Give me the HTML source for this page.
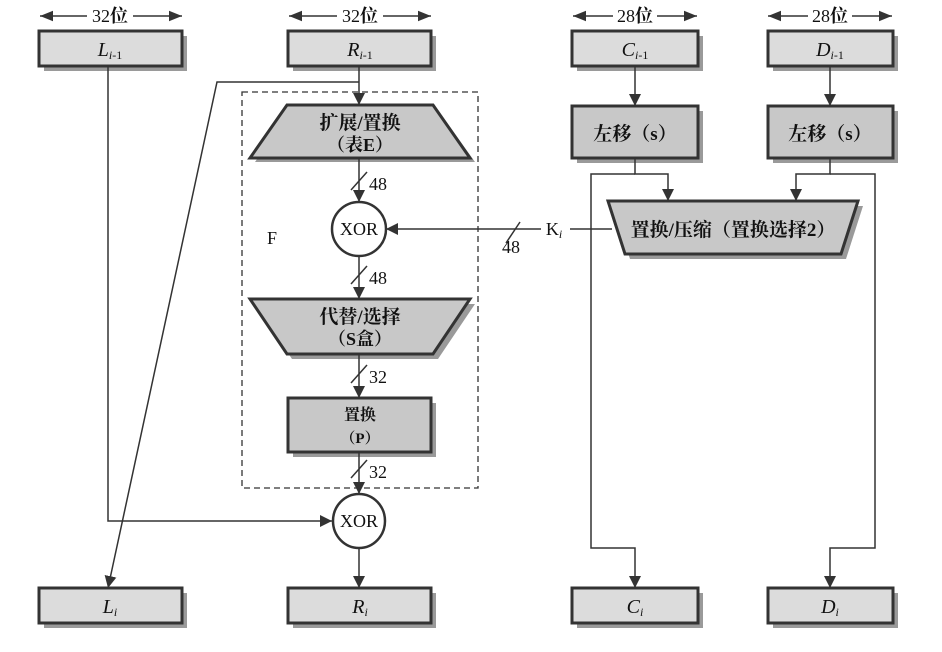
<!DOCTYPE html>
<html><head><meta charset="utf-8"><style>
body{margin:0;background:#fff}
text{font-family:"Liberation Serif","Noto Serif CJK SC",serif;fill:#111}
.cj{font-weight:bold}
</style></head><body>
<svg width="942" height="647" viewBox="0 0 942 647" xmlns="http://www.w3.org/2000/svg">
<defs>
<marker id="a" viewBox="0 0 10 10" refX="10" refY="5" markerWidth="12" markerHeight="12" orient="auto-start-reverse" markerUnits="userSpaceOnUse"><path d="M0,0L10,5L0,10z" fill="#333"/></marker>
<marker id="b" viewBox="0 0 10 10" refX="10" refY="5" markerWidth="13" markerHeight="13" orient="auto-start-reverse" markerUnits="userSpaceOnUse"><path d="M0,1L10,5L0,9z" fill="#333"/></marker>
</defs>
<g stroke="#333" stroke-width="1.5" fill="none">
<line x1="40" y1="16" x2="87" y2="16" marker-start="url(#b)"/><line x1="133" y1="16" x2="182" y2="16" marker-end="url(#b)"/>
<line x1="289" y1="16" x2="337" y2="16" marker-start="url(#b)"/><line x1="383" y1="16" x2="431" y2="16" marker-end="url(#b)"/>
<line x1="573" y1="16" x2="613" y2="16" marker-start="url(#b)"/><line x1="657" y1="16" x2="697" y2="16" marker-end="url(#b)"/>
<line x1="768" y1="16" x2="808" y2="16" marker-start="url(#b)"/><line x1="852" y1="16" x2="892" y2="16" marker-end="url(#b)"/>
</g>
<g font-size="18" text-anchor="middle">
<text x="110" y="22">32<tspan class="cj">位</tspan></text><text x="360" y="22">32<tspan class="cj">位</tspan></text><text x="635" y="22">28<tspan class="cj">位</tspan></text><text x="830" y="22">28<tspan class="cj">位</tspan></text>
</g>
<g fill="#9a9a9a">
<rect x="44" y="36" width="143" height="35"/><rect x="293" y="36" width="143" height="35"/>
<rect x="577" y="36" width="126" height="35"/><rect x="773" y="36" width="125" height="35"/>
<rect x="577" y="111" width="126" height="52"/><rect x="773" y="111" width="125" height="52"/>
<rect x="293" y="403" width="143" height="54"/>
<rect x="44" y="593" width="143" height="35"/><rect x="293" y="593" width="143" height="35"/>
<rect x="577" y="593" width="126" height="35"/><rect x="773" y="593" width="125" height="35"/>
<polygon points="292,110 438,110 475,162 255,162"/>
<polygon points="255,304 475,304 438,359 292,359"/>
<polygon points="613,206 863,206 846,259 630,259"/>
</g>
<g stroke="#333" stroke-width="3" fill="#dcdcdc">
<rect x="39" y="31" width="143" height="35"/><rect x="288" y="31" width="143" height="35"/>
<rect x="572" y="31" width="126" height="35"/><rect x="768" y="31" width="125" height="35"/>
<rect x="39" y="588" width="143" height="35"/><rect x="288" y="588" width="143" height="35"/>
<rect x="572" y="588" width="126" height="35"/><rect x="768" y="588" width="125" height="35"/>
</g>
<g stroke="#333" stroke-width="3" fill="#c8c8c8">
<rect x="572" y="106" width="126" height="52"/><rect x="768" y="106" width="125" height="52"/>
<rect x="288" y="398" width="143" height="54"/>
<polygon points="287,105 433,105 470,158 250,158"/>
<polygon points="250,299 470,299 433,354 287,354"/>
<polygon points="608,201 858,201 841,254 625,254"/>
</g>
<rect x="242" y="92" width="236" height="396" fill="none" stroke="#333" stroke-width="1.3" stroke-dasharray="6,4"/>
<g stroke="#333" stroke-width="1.5" fill="none">
<line x1="359" y1="66" x2="359" y2="105" marker-end="url(#a)"/>
<polyline points="359,82 217,82 108,588" marker-end="url(#a)"/>
<line x1="359" y1="158" x2="359" y2="202" marker-end="url(#a)"/>
<line x1="359" y1="256" x2="359" y2="299" marker-end="url(#a)"/>
<line x1="359" y1="354" x2="359" y2="398" marker-end="url(#a)"/>
<line x1="359" y1="452" x2="359" y2="494" marker-end="url(#a)"/>
<line x1="359" y1="548" x2="359" y2="588" marker-end="url(#a)"/>
<polyline points="108,66 108,521 332,521" marker-end="url(#a)"/>
<line x1="351" y1="190" x2="367" y2="172"/><line x1="351" y1="284" x2="367" y2="266"/>
<line x1="351" y1="383" x2="367" y2="365"/><line x1="351" y1="478" x2="367" y2="460"/>
<line x1="506" y1="243" x2="520" y2="222"/>
<line x1="541" y1="229" x2="386" y2="229" marker-end="url(#a)"/>
<line x1="570" y1="229" x2="612" y2="229"/>
<line x1="635" y1="66" x2="635" y2="106" marker-end="url(#a)"/>
<line x1="830" y1="66" x2="830" y2="106" marker-end="url(#a)"/>
<polyline points="635,158 635,174 668,174 668,201" marker-end="url(#a)"/>
<polyline points="635,174 591,174 591,548 635,548 635,588" marker-end="url(#a)"/>
<polyline points="830,158 830,174 796,174 796,201" marker-end="url(#a)"/>
<polyline points="830,174 875,174 875,548 830,548 830,588" marker-end="url(#a)"/>
</g>
<g stroke="#333" stroke-width="2.5" fill="#fff">
<circle cx="359" cy="229" r="27"/><ellipse cx="359" cy="521" rx="26" ry="27"/>
</g>
<g font-size="18" text-anchor="middle">
<text x="359" y="235">XOR</text><text x="359" y="527">XOR</text>
<text x="272" y="244">F</text>
<text x="369" y="190" text-anchor="start">48</text><text x="369" y="284" text-anchor="start">48</text>
<text x="369" y="383" text-anchor="start">32</text><text x="369" y="478" text-anchor="start">32</text>
<text x="511" y="253">48</text>
<text x="554" y="235">K<tspan font-size="12" font-style="italic" dy="3">i</tspan></text>
<text class="cj" x="360" y="129" font-size="19">扩展/置换</text><text class="cj" x="360" y="151" font-size="18">（表E）</text>
<text class="cj" x="360" y="323" font-size="19">代替/选择</text><text class="cj" x="360" y="345" font-size="18">（S盒）</text>
<text class="cj" x="360" y="420" font-size="16">置换</text><text class="cj" x="360" y="443" font-size="15">（P）</text>
<text class="cj" x="635" y="140" font-size="19">左移（s）</text><text class="cj" x="830" y="140" font-size="19">左移（s）</text>
<text class="cj" x="733" y="236" font-size="19">置换/压缩（置换选择2）</text>
<g font-style="italic" font-size="20">
<text x="110" y="56">L<tspan font-size="12" dy="3">i</tspan><tspan font-style="normal" font-size="12">-1</tspan></text>
<text x="360" y="56">R<tspan font-size="12" dy="3">i</tspan><tspan font-style="normal" font-size="12">-1</tspan></text>
<text x="635" y="56">C<tspan font-size="12" dy="3">i</tspan><tspan font-style="normal" font-size="12">-1</tspan></text>
<text x="830" y="56">D<tspan font-size="12" dy="3">i</tspan><tspan font-style="normal" font-size="12">-1</tspan></text>
<text x="110" y="613">L<tspan font-size="12" dy="3">i</tspan></text>
<text x="360" y="613">R<tspan font-size="12" dy="3">i</tspan></text>
<text x="635" y="613">C<tspan font-size="12" dy="3">i</tspan></text>
<text x="830" y="613">D<tspan font-size="12" dy="3">i</tspan></text>
</g>
</g>
</svg>
</body></html>
